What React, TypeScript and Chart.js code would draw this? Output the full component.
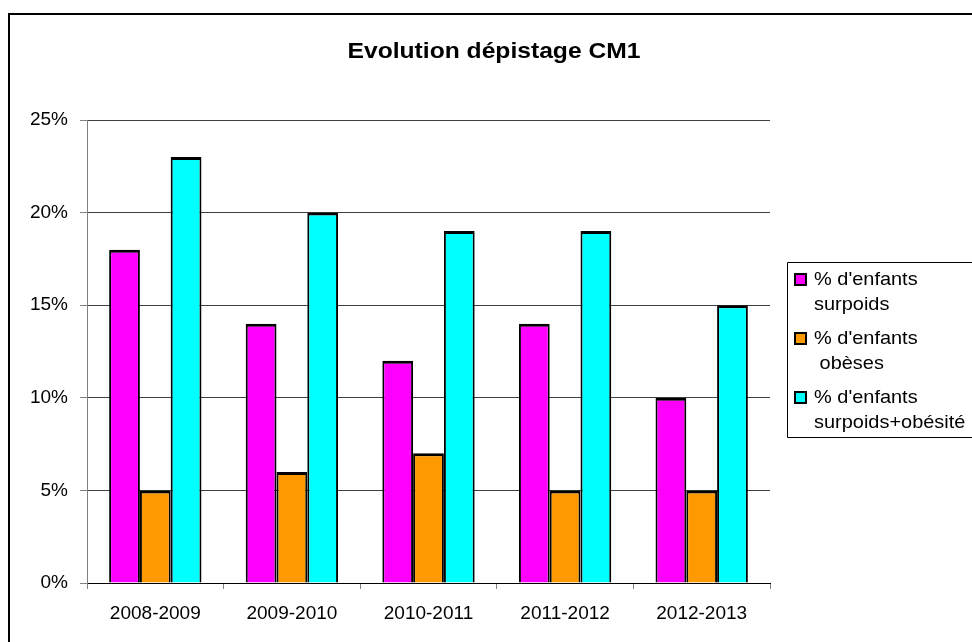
import React, { useEffect, useRef } from "react";
import { Chart, registerables } from "chart.js";

Chart.register(...registerables);

const TITLE = "Evolution dépistage CM1";
const categories = ["2008-2009", "2009-2010", "2010-2011", "2011-2012", "2012-2013"];
const surpoids = [18, 14, 12, 14, 10];
const obeses = [5, 6, 7, 5, 5];
const surpoidsObesite = [23, 20, 19, 19, 15];
const seriesLabels = [
  ["% d'enfants", "surpoids"],
  ["% d'enfants", " obèses"],
  ["% d'enfants", "surpoids+obésité"],
];
const seriesColors = ["#FF00FF", "#FF9900", "#00FFFF"];
const yTicks = [0, 5, 10, 15, 20, 25];

const FONT = '"Liberation Sans", Arial, sans-serif';

const decorPlugin = {
  id: "decor",
  afterDraw(chart: any) {
    const ctx = chart.ctx;
    ctx.save();
    // outer frame
    ctx.fillStyle = "#000";
    ctx.fillRect(8, 13, 964, 2);
    ctx.fillRect(8, 13, 2, 629);
    // title (slightly stretched horizontally like the original rendering)
    ctx.save();
    ctx.font = `bold 22px ${FONT}`;
    ctx.textAlign = "center";
    ctx.textBaseline = "alphabetic";
    ctx.translate(494, 58);
    ctx.scale(1.12, 1);
    ctx.fillText(TITLE, 0, 0);
    ctx.restore();
    // legend box
    ctx.strokeStyle = "#000";
    ctx.lineWidth = 1;
    ctx.beginPath();
    ctx.moveTo(980, 262.5);
    ctx.lineTo(787.5, 262.5);
    ctx.lineTo(787.5, 437.5);
    ctx.lineTo(980, 437.5);
    ctx.stroke();
    const baselines = [285, 344, 403];
    seriesLabels.forEach((lines, i) => {
      const b = baselines[i];
      ctx.fillStyle = seriesColors[i];
      ctx.fillRect(795, b - 11, 11, 11);
      ctx.strokeStyle = "#000";
      ctx.lineWidth = 2;
      ctx.strokeRect(795, b - 11, 11, 11);
      ctx.fillStyle = "#000";
      lines.forEach((t, j) => {
        ctx.save();
        ctx.font = `19px ${FONT}`;
        ctx.textAlign = "left";
        ctx.textBaseline = "alphabetic";
        ctx.translate(814, b + j * 25);
        ctx.scale(1.05, 1);
        ctx.fillText(t, 0, 0);
        ctx.restore();
      });
    });
    ctx.restore();
  },
};

export default function App() {
  const ref = useRef<HTMLCanvasElement>(null);
  useEffect(() => {
    if (!ref.current) return;
    const mk = (label: string, data: number[], i: number) => ({
      label,
      data,
      backgroundColor: seriesColors[i],
      borderColor: "#000",
      borderWidth: { top: 3, left: 2, right: 2, bottom: 0 },
      borderSkipped: "start",
      categoryPercentage: 0.676,
      barPercentage: 1.0,
    });
    const chart = new Chart(ref.current, {
      type: "bar",
      data: {
        labels: categories,
        datasets: [
          mk(seriesLabels[0].join(" "), surpoids, 0),
          mk(seriesLabels[1].join(" "), obeses, 1),
          mk(seriesLabels[2].join(" "), surpoidsObesite, 2),
        ],
      },
      options: {
        responsive: false,
        animation: false,
        devicePixelRatio: 1,
        layout: { padding: { left: 0, right: 202, top: 120, bottom: 0 } },
        plugins: {
          legend: { display: false },
          title: { display: false },
          tooltip: { enabled: false },
        },
        scales: {
          x: {
            offset: true,
            grid: {
              offset: true,
              drawOnChartArea: false,
              drawTicks: true,
              tickLength: 6,
              tickColor: "#808080",
            },
            border: { color: "#000", width: 1 },
            ticks: { font: { family: FONT, size: 19 }, color: "#000", padding: 13, maxRotation: 0 },
            afterFit: (s: any) => {
              s.height = 59;
            },
          },
          y: {
            min: yTicks[0],
            max: yTicks[yTicks.length - 1],
            afterBuildTicks: (s: any) => {
              s.ticks = yTicks.map((v) => ({ value: v }));
            },
            grid: {
              color: "#404040",
              lineWidth: 1,
              tickLength: 7,
              tickColor: "#808080",
            },
            border: { color: "#808080", width: 1 },
            ticks: {
              font: { family: FONT, size: 19 },
              color: "#000",
              padding: 12,
              callback: (v: any) => `${v}%`,
            },
            afterFit: (s: any) => {
              s.width = 87;
            },
          },
        },
      },
      plugins: [decorPlugin],
    } as any);
    return () => chart.destroy();
  }, []);
  return (
    <div style={{ position: "absolute", left: 0, top: 0, width: 972, height: 642, background: "#fff" }}>
      <canvas ref={ref} width={972} height={642} style={{ width: 972, height: 642, display: "block" }} />
    </div>
  );
}
